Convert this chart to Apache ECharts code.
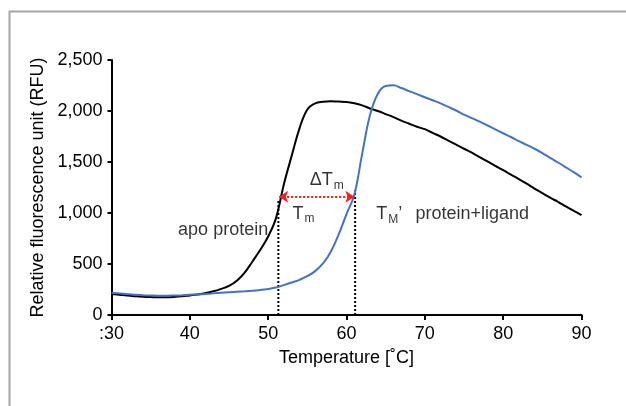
<!DOCTYPE html>
<html>
<head>
<meta charset="utf-8">
<script src="https://cdn.jsdelivr.net/npm/echarts@6/dist/echarts.min.js"></script>
<style>
  html, body { margin: 0; padding: 0; background: #fff; }
  #chart { width: 626px; height: 406px; }
</style>
</head>
<body>
<div id="chart"></div>
<script>
// temperature steps (deg C)
const temps = [];
for (let t = 30; t <= 90; t++) temps.push(t);

// apo protein (black)
const apoRfu = [206, 198, 190, 184, 179, 176, 174, 174, 177, 183,
  192, 201, 215, 232, 256, 285, 335, 415, 525, 640,
  770, 950, 1280, 1560, 1830, 2015, 2075, 2090, 2095, 2092,
  2088, 2075, 2055, 2025, 2000, 1970, 1940, 1905, 1875, 1845,
  1822, 1785, 1750, 1710, 1670, 1630, 1592, 1548, 1505, 1462,
  1420, 1376, 1333, 1288, 1240, 1195, 1150, 1110, 1065, 1022, 980];

// protein + ligand (blue)
const ligRfu = [218, 212, 205, 199, 194, 191, 189, 189, 191, 194,
  198, 202, 207, 212, 217, 222, 227, 232, 238, 246,
  256, 270, 293, 318, 345, 380, 430, 505, 620, 790,
  990, 1180, 1580, 1960, 2170, 2245, 2252, 2225, 2195, 2165,
  2135, 2105, 2075, 2040, 2005, 1965, 1930, 1895, 1858, 1820,
  1782, 1745, 1705, 1668, 1630, 1588, 1540, 1495, 1448, 1400, 1350];

// melting temperatures and the arrow between them
const tmApo = [[51.3, 0], [51.3, 1120]];
const tmLig = [[61.1, 0], [61.1, 1225]];
const deltaArrow = [[51.4, 1160], [61.0, 1160]];

// text labels [x, y, text, side]
const notes = [
  [50.0, 830, 'apo protein', 'left'],
  [53.1, 990, 'T{sub|m}', 'right'],
  [55.3, 1320, '\u0394T{sub|m}', 'right'],
  [63.8, 985, 'T{sub|M}\u2019', 'right'],
  [68.8, 985, 'protein+ligand', 'right']
];

const yTicks = [0, 500, 1000, 1500, 2000, 2500];

const chart = echarts.init(document.getElementById('chart'));
const font = 'Liberation Sans, Arial, sans-serif';

chart.setOption({
  animation: false,
  backgroundColor: '#fff',
  graphic: [{
    type: 'polyline',
    shape: { points: [[9.5, 406], [9.5, 11.5], [626, 11.5]] },
    style: { stroke: '#a6a6a6', lineWidth: 2, fill: null }
  }],
  grid: { left: 111.5, right: 44.5, top: 60, bottom: 91 },
  xAxis: {
    type: 'value', min: 30, max: 90, interval: 10,
    name: 'Temperature [\u02daC]', nameLocation: 'middle', nameGap: 34,
    nameTextStyle: { color: '#000', fontSize: 18, fontFamily: font },
    axisLine: { lineStyle: { color: '#000', width: 2 } },
    axisTick: { show: true, length: 5, lineStyle: { color: '#000', width: 2 } },
    axisLabel: { color: '#000', fontSize: 18, fontFamily: font, margin: 10,
      formatter: v => v === 30 ? ':30' : String(v) },
    splitLine: { show: false }
  },
  yAxis: {
    type: 'value', min: yTicks[0], max: yTicks[yTicks.length - 1], interval: 500,
    name: 'Relative fluorescence unit (RFU)', nameLocation: 'middle', nameGap: 62,
    nameTextStyle: { color: '#000', fontSize: 18, fontFamily: font },
    axisLine: { show: true, lineStyle: { color: '#000', width: 2 } },
    axisTick: { show: true, length: 4, lineStyle: { color: '#000', width: 2 } },
    axisLabel: { color: '#000', fontSize: 18, fontFamily: font, margin: 9,
      formatter: v => v.toLocaleString('en-US') },
    splitLine: { show: false }
  },
  series: [
    {
      name: 'apo protein', type: 'line', showSymbol: false, symbol: 'none',
      smooth: 0.4,
      data: temps.map((t, i) => [t, apoRfu[i]]),
      lineStyle: { color: '#000', width: 2 }, z: 3
    },
    {
      name: 'protein+ligand', type: 'line', showSymbol: false, symbol: 'none',
      smooth: 0.4,
      data: temps.map((t, i) => [t, ligRfu[i]]),
      lineStyle: { color: '#4472c4', width: 2 }, z: 3
    },
    {
      type: 'line', symbol: 'none', data: tmApo,
      lineStyle: { color: '#000', width: 2, type: [2, 2] }, z: 2
    },
    {
      type: 'line', symbol: 'none', data: tmLig,
      lineStyle: { color: '#000', width: 2, type: [2, 2] }, z: 2
    },
    {
      type: 'line', symbol: 'none', data: [],
      markLine: {
        silent: true, symbol: ['arrow', 'arrow'], symbolSize: [9, 9],
        label: { show: false },
        lineStyle: { color: '#ff1a1a', width: 2, type: [2, 2] },
        data: [[{ coord: deltaArrow[0] }, { coord: deltaArrow[1] }]]
      }
    },
    {
      type: 'scatter', symbolSize: 0, z: 5,
      data: notes.map(n => ({
        value: [n[0], n[1]],
        label: { position: n[3] }
      })),
      label: {
        show: true, distance: 0, color: '#000', fontSize: 18, fontFamily: font,
        formatter: p => notes[p.dataIndex][2],
        rich: {
          sub: { fontSize: 12, fontFamily: font, color: '#000', verticalAlign: 'bottom', padding: [10, 0, 0, 1] }
        }
      }
    }
  ]
});
</script>
</body>
</html>
